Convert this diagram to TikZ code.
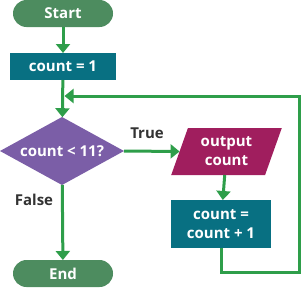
\documentclass[tikz,border=0pt]{standalone}
\usepackage{fontspec}
\setmainfont{Open Sans}
\usetikzlibrary{positioning,arrows.meta,shapes,calc}

\definecolor{termgreen}{RGB}{77,140,95}
\definecolor{linegreen}{RGB}{46,158,74}
\definecolor{procteal}{RGB}{8,112,130}
\definecolor{decpurple}{RGB}{123,94,167}
\definecolor{iomagenta}{RGB}{160,30,94}
\definecolor{labelgray}{RGB}{51,51,51}

\begin{document}
\begin{tikzpicture}[x=1pt,y=1pt, every node/.style={font=\bfseries\fontsize{15}{19}\selectfont, text=white, inner sep=0pt, outer sep=0pt},
  term/.style={draw=none,fill=termgreen,rounded corners=13.5pt,minimum width=100pt,minimum height=27pt},
  proc/.style={fill=procteal,minimum width=#1,minimum height=27pt,align=center},
  flow/.style={draw=linegreen,line width=3pt,-{Triangle[width=14pt,length=9pt]}}]
        \useasboundingbox (0,0) rectangle (304,-289);
        \node[term] (s) at (63,-13.5) {Start};
        \node[proc=106pt] (c) at (63,-66.5) {count = 1};
        \node[diamond,fill=decpurple,minimum width=124pt,minimum height=68pt,aspect=1.8] (d) at (62,-151) {count < 11?};
        \node[trapezium,trapezium left angle=69,trapezium right angle=111,trapezium stretches=true,fill=iomagenta,minimum width=111pt,minimum height=47pt,align=center] (o) at (226.5,-151.5) {output\\count};
        \node[proc=100pt,minimum height=48pt] (u) at (221,-224) {count =\\count + 1};
        \node[term] (e) at (63,-273.5) {End};
        \node[text=labelgray] (t) at (147,-133) {True};
        \node[text=labelgray] (f) at (34,-200) {False};
        \coordinate (j) at (63,-96);
        \coordinate (k) at (299,-272);
        \draw[flow] (s)--(c);\draw[flow] (c)--(d);\draw[flow] (d.east)--(o.west);
        \draw[flow] (o)--(u);\draw[flow] (d)--(e);
        \draw[flow,shorten >=1.5pt] (u.south) |- (k) |- (j);
      \end{tikzpicture}
\end{document}
